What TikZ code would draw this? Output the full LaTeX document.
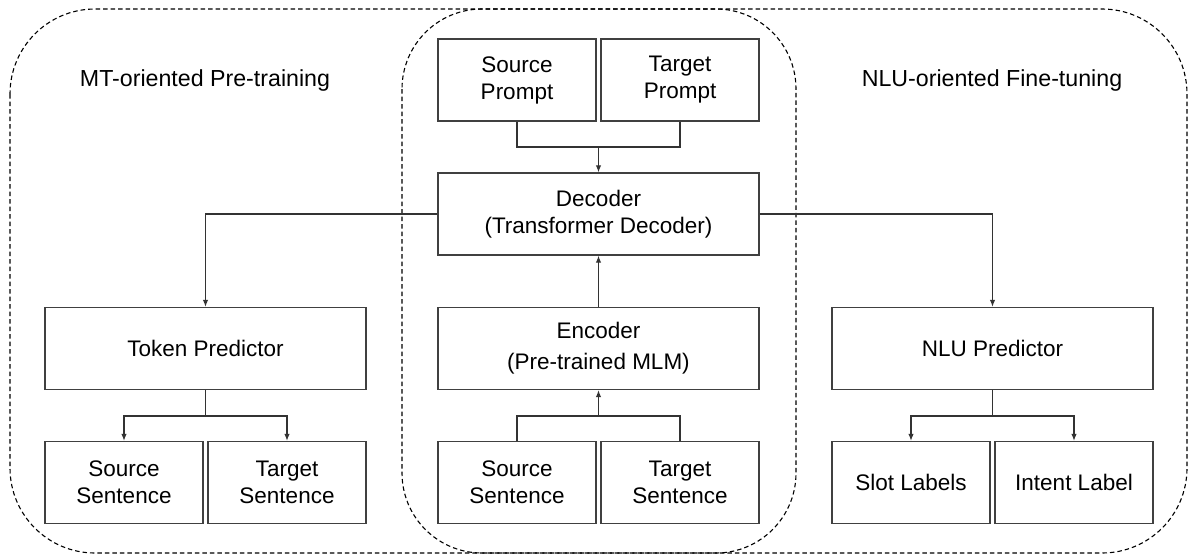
\documentclass[tikz,border=0pt]{standalone}
\usepackage{fontspec}
\setmainfont{Liberation Sans}
\usetikzlibrary{arrows.meta}
\begin{document}
\begin{tikzpicture}[x=1pt,y=-1pt,
  box/.style={draw=black!75, line width=1.3pt, inner sep=0pt, align=center,
    font=\fontsize{22.5}{27}\selectfont, minimum height=82pt},
  wide/.style={box, minimum width=321pt},
  half/.style={box, minimum width=158pt},
  conn/.style={draw=black!80, line width=1.2pt},
  arr/.style={conn, -{Latex[length=7pt,width=5.5pt]}},
  region/.style={draw=black, line width=1.1pt, dash pattern=on 4.5pt off 3pt},
  title/.style={font=\fontsize{23.2}{26}\selectfont}]
\useasboundingbox (0,0) rectangle (1190,555);
% regions
\draw[region, rounded corners=85pt] (10,9) rectangle (1187,553);
\draw[region, rounded corners=80pt] (402,9) rectangle (796,553);
\node[title] (mt) at (205,80) {MT-oriented Pre-training};
\node[title] (nl) at (992,80) {NLU-oriented Fine-tuning};
% middle column
\node[half] (sp) at (517,80) {Source\\Prompt};
\node[half] (tp) at (680,80) {Target\\Prompt};
\node[wide] (dec) at (598.5,214) {Decoder\\(Transformer Decoder)};
\node[wide, font=\fontsize{22.5}{31}\selectfont] (enc) at (598.5,348.5) {Encoder\\(Pre-trained MLM)};
\node[half] (ms) at (517,482.5) {Source\\Sentence};
\node[half] (mtg) at (680,482.5) {Target\\Sentence};
% left column
\node[wide] (tok) at (205.5,348.5) {Token Predictor};
\node[half] (ls) at (124,482.5) {Source\\Sentence};
\node[half] (lt) at (287,482.5) {Target\\Sentence};
% right column
\node[wide] (nlu) at (992.5,348.5) {NLU Predictor};
\node[half] (sl) at (911,482.5) {Slot Labels};
\node[half] (il) at (1074,482.5) {Intent Label};
% junctions
\coordinate (jt) at (598.5,147);
\coordinate (jb) at (598.5,416);
\coordinate (jl) at (205.5,416);
\coordinate (jr) at (992.5,416);
% connectors
\draw[conn] (sp.south) |- (jt) -| (tp.south);
\draw[arr] (jt) -- (dec.north);
\draw[arr] (enc.north) -- (dec.south);
\draw[conn] (ms.north) |- (jb) -| (mtg.north);
\draw[arr] (jb) -- (enc.south);
\draw[arr] (dec.west) -| (tok.north);
\draw[arr] (dec.east) -| (nlu.north);
\draw[conn] (tok.south) -- (jl);
\draw[arr] (jl) -| (ls.north);
\draw[arr] (jl) -| (lt.north);
\draw[conn] (nlu.south) -- (jr);
\draw[arr] (jr) -| (sl.north);
\draw[arr] (jr) -| (il.north);
\end{tikzpicture}
\end{document}
